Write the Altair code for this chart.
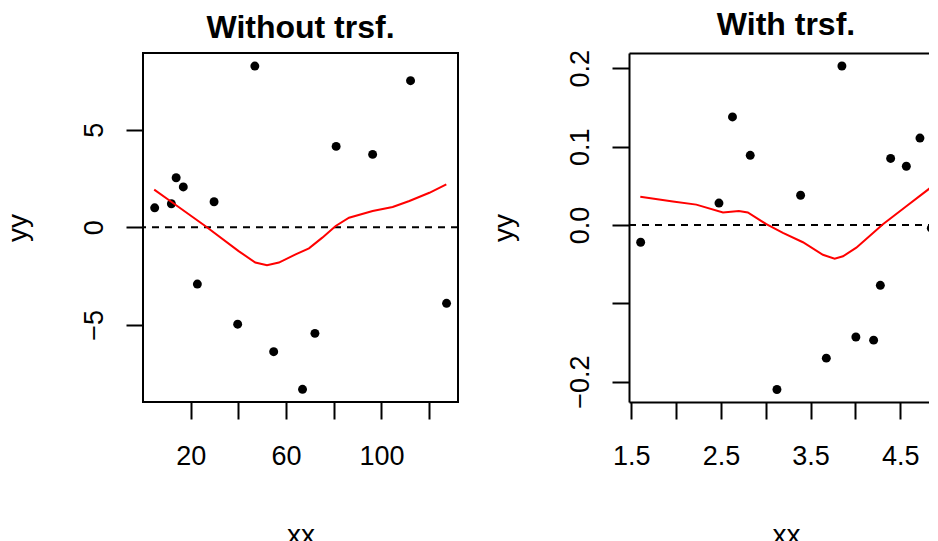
import altair as alt
import pandas as pd

FONT = "Liberation Sans"

# ---- data ----
xx_raw = [4.9, 11.9, 13.9, 16.9, 22.8, 29.8, 39.7, 46.9, 54.8, 66.9, 72.1, 81.0, 96.3, 112.2, 127.3]
yy_raw = [1.00, 1.21, 2.54, 2.07, -2.91, 1.31, -4.97, 8.27, -6.38, -8.31, -5.44, 4.15, 3.74, 7.52, -3.90]

xx_trsf = [1.604, 2.478, 2.629, 2.827, 3.125, 3.389, 3.676, 3.850, 4.006, 4.204, 4.279, 4.394, 4.569, 4.721, 4.848]
yy_trsf = [-0.022, 0.028, 0.138, 0.089, -0.210, 0.038, -0.170, 0.203, -0.143, -0.147, -0.077, 0.085, 0.075, 0.111, -0.004]

smooth_raw_x = [4.7, 12.0, 26.1, 40.1, 47.1, 52.0, 57.0, 64.0, 69.6, 75.2, 80.8, 86.4, 96.3, 104.7, 111.7, 120.1, 127.2]
smooth_raw_y = [1.93, 1.30, 0.07, -1.22, -1.81, -1.95, -1.81, -1.39, -1.08, -0.53, 0.07, 0.49, 0.84, 1.04, 1.35, 1.77, 2.20]

smooth_trsf_x = [1.600, 1.964, 2.225, 2.523, 2.700, 2.800, 3.007, 3.192, 3.415, 3.638, 3.769, 3.862, 4.011, 4.308, 4.569, 4.855]
smooth_trsf_y = [0.036, 0.030, 0.026, 0.016, 0.018, 0.016, 0.001, -0.010, -0.022, -0.038, -0.043, -0.040, -0.029, 0.001, 0.024, 0.049]

zero_ref = [0]

raw_ticks = [20, 40, 60, 80, 100, 120]
trsf_ticks_x = [1.5, 2.0, 2.5, 3.0, 3.5, 4.0, 4.5]
raw_ticks_y = [-5, 0, 5]
trsf_ticks_y = [-0.2, -0.1, 0.0, 0.1, 0.2]

pts_raw = pd.DataFrame({"xx": xx_raw, "yy": yy_raw})
pts_trsf = pd.DataFrame({"xx": xx_trsf, "yy": yy_trsf})
sm_raw = pd.DataFrame({"xx": smooth_raw_x, "yy": smooth_raw_y})
sm_trsf = pd.DataFrame({"xx": smooth_trsf_x, "yy": smooth_trsf_y})
zero_df = pd.DataFrame({"yy": zero_ref})

LBL = 27
TTL = 28
TICK = 17
DASH = [7, 6]


def xaxis(values, expr, **kw):
    return alt.Axis(values=values, labelExpr=expr, title="xx", grid=False,
                    domain=kw.pop("domain", False), domainWidth=2, domainColor="black",
                    tickSize=TICK, tickWidth=2, tickColor="black",
                    labelFont=FONT, labelFontSize=LBL, labelColor="black",
                    labelPadding=24, labelBaseline="top", labelFlush=False,
                    labelOverlap=False,
                    titleFont=FONT, titleFontSize=TTL, titleFontWeight="normal",
                    titleColor="black", titlePadding=52, **kw)


def yaxis(values, expr, **kw):
    return alt.Axis(values=values, labelExpr=expr, title="yy", grid=False,
                    domain=kw.pop("domain", False), domainWidth=2, domainColor="black",
                    tickSize=TICK, tickWidth=2, tickColor="black",
                    labelFont=FONT, labelFontSize=LBL, labelColor="black",
                    labelAngle=-90, labelAlign="center", labelBaseline="alphabetic",
                    labelPadding=24, labelFlush=False, labelOverlap=False,
                    titleFont=FONT, titleFontSize=TTL, titleFontWeight="normal",
                    titleColor="black", titlePadding=48, **kw)


def title(text, dx=0):
    return alt.Title(text, font=FONT, fontSize=32, fontWeight="bold",
                     color="black", anchor="middle", frame="group", offset=8, dx=dx)


# ---------- left panel ----------
xs_l = alt.Scale(domain=[0, 132.1], nice=False, zero=False)
ys_l = alt.Scale(domain=[-8.96, 8.94], nice=False, zero=False)

lx = alt.X("xx:Q", scale=xs_l,
           axis=xaxis(raw_ticks, "(datum.value % 40 == 20) ? datum.label : ''"))
ly = alt.Y("yy:Q", scale=ys_l, axis=yaxis(raw_ticks_y, "datum.label"))

left = alt.layer(
    alt.Chart(pts_raw).mark_circle(size=80, color="black", opacity=1).encode(x=lx, y=ly),
    alt.Chart(zero_df).mark_rule(color="black", strokeWidth=2, strokeDash=DASH).encode(
        y=alt.Y("yy:Q", scale=ys_l)),
    alt.Chart(sm_raw).mark_line(color="red", strokeWidth=2).encode(
        x=alt.X("xx:Q", scale=xs_l), y=alt.Y("yy:Q", scale=ys_l)),
).properties(
    width=315, height=349,
    view=alt.ViewBackground(stroke="black", strokeWidth=2),
    title=title("Without trsf."),
)

# ---------- right panel (its right edge runs past the picture, as in the reference) ----------
xs_r = alt.Scale(domain=[1.474, 4.889], nice=False, zero=False)
ys_r = alt.Scale(domain=[-0.226, 0.2196], nice=False, zero=False)

rx = alt.X("xx:Q", scale=xs_r,
           axis=xaxis(trsf_ticks_x,
                      "(abs(datum.value * 2 - floor(datum.value * 2 / 2) * 2 - 1) < 0.01) ? format(datum.value, '.1f') : ''",
                      domain=True, titleX=157))
ry = alt.Y("yy:Q", scale=ys_r,
           axis=yaxis(trsf_ticks_y,
                      "(abs(datum.value + 0.1) < 1e-6) ? '' : format(datum.value, '.1f')",
                      domain=True))

right = alt.layer(
    alt.Chart(pts_trsf).mark_circle(size=80, color="black", opacity=1).encode(x=rx, y=ry),
    alt.Chart(zero_df).mark_rule(color="black", strokeWidth=2, strokeDash=DASH).encode(
        y=alt.Y("yy:Q", scale=ys_r)),
    alt.Chart(sm_trsf).mark_line(color="red", strokeWidth=2).encode(
        x=alt.X("xx:Q", scale=xs_r,
                axis=alt.Axis(orient="top", labels=False, ticks=False, domain=True,
                              domainWidth=2, domainColor="black", grid=False,
                              title=None)),
        y=alt.Y("yy:Q", scale=ys_r)),
).resolve_axis(x="independent").properties(
    width=306, height=349,
    view=alt.ViewBackground(stroke="transparent"),
    title=title("With trsf.", dx=4),
)

chart = alt.hconcat(left, right, spacing=30).properties(
    padding={"left": -5, "top": 0, "right": -7, "bottom": 0},
    background="white",
).configure_view(strokeWidth=0)

chart.save("out.html", embed_options={"renderer": "svg", "actions": False})
